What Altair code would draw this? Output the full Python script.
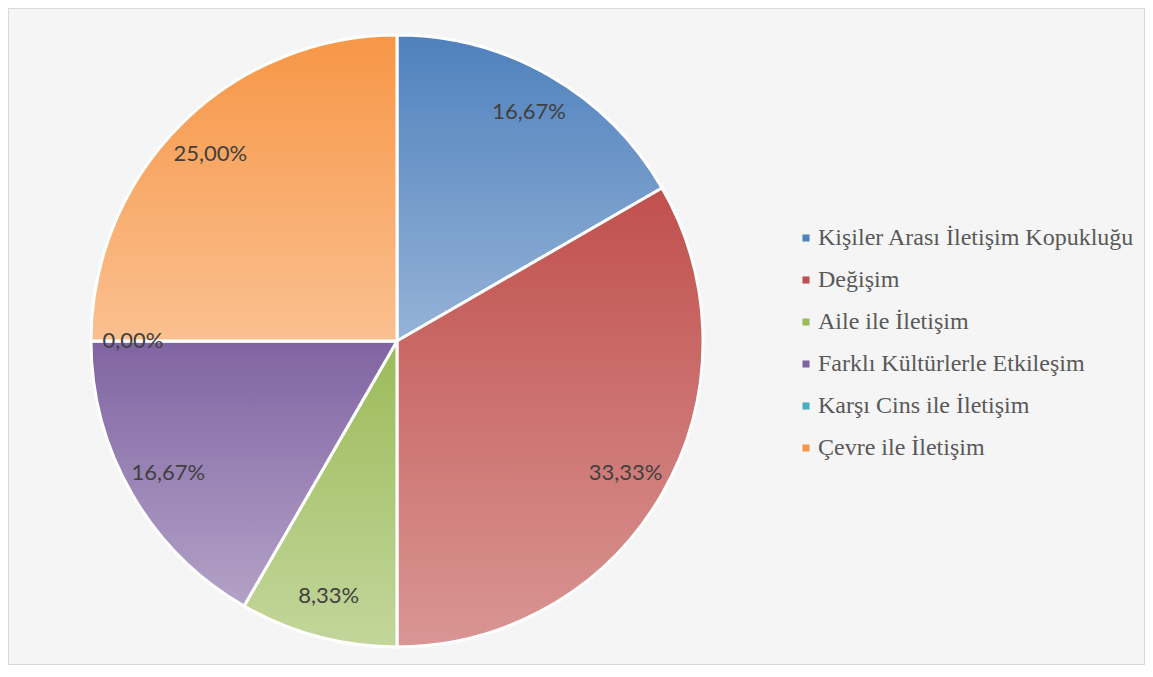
import altair as alt
import pandas as pd

categories = [
    "Kişiler Arası İletişim Kopukluğu",
    "Değişim",
    "Aile ile İletişim",
    "Farklı Kültürlerle Etkileşim",
    "Karşı Cins ile İletişim",
    "Çevre ile İletişim",
]
values = [16.67, 33.33, 8.33, 16.67, 0.00, 25.00]
dark_colors = ["#4F81BD", "#C0504D", "#9BBB59", "#8064A2", "#4BACC6", "#F79646"]
light_colors = ["#95B3D7", "#D99694", "#C3D69B", "#B3A2C7", "#92CDDC", "#FAC090"]

df = pd.DataFrame({"cat": categories, "v": values, "idx": list(range(len(categories)))})

def grad(d, l):
    return {
        "gradient": "linear",
        "x1": 0, "y1": 0, "x2": 0, "y2": 1,
        "stops": [{"offset": 0, "color": d}, {"offset": 1, "color": l}],
    }

conds = [
    {"test": f"datum.idx === {i}", "value": grad(d, l)}
    for i, (d, l) in enumerate(zip(dark_colors, light_colors))
]

CX, CY, R = 389, 333, 306

base = alt.Chart(df).transform_calculate(
    label="replace(format(datum.v, '.2f'), '.', ',') + '%'"
)

solid = base.mark_arc(outerRadius=R).encode(
    theta=alt.Theta("v:Q", stack=True),
    order=alt.Order("idx:Q"),
    color=alt.Color(
        "cat:N",
        scale=alt.Scale(domain=categories, range=dark_colors),
        sort=categories,
        legend=alt.Legend(
            title=None,
            orient="none",
            legendX=786,
            legendY=218,
            symbolType="square",
            symbolSize=50,
            symbolStrokeWidth=0,
            labelFont="Liberation Serif",
            labelFontSize=24,
            labelColor="#595959",
            rowPadding=18,
            labelOffset=0,
            labelLimit=400,
        ),
    ),
    x=alt.value(CX),
    y=alt.value(CY),
)

gradient = base.mark_arc(outerRadius=R, stroke="white", strokeWidth=3).encode(
    theta=alt.Theta("v:Q", stack=True),
    order=alt.Order("idx:Q"),
    detail="cat:N",
    fill=alt.FillValue(condition=conds[:-1], value=grad(dark_colors[-1], light_colors[-1])),
    x=alt.value(CX),
    y=alt.value(CY),
)

labels = base.mark_text(
    radius=264, font="Lato", fontSize=22, color="#404040"
).encode(
    theta=alt.Theta("v:Q", stack=True),
    order=alt.Order("idx:Q"),
    detail="cat:N",
    text="label:N",
    x=alt.value(CX),
    y=alt.value(CY),
)

chart = alt.layer(solid, gradient, labels).properties(
    width=1137, height=657,
    autosize=alt.AutoSizeParams(type="none"),
    padding=0,
    background="#f5f5f5",
).configure_view(stroke="#d9d9d9", strokeWidth=2)

chart.save("out.html", embed_options={"renderer": "svg", "actions": False})
